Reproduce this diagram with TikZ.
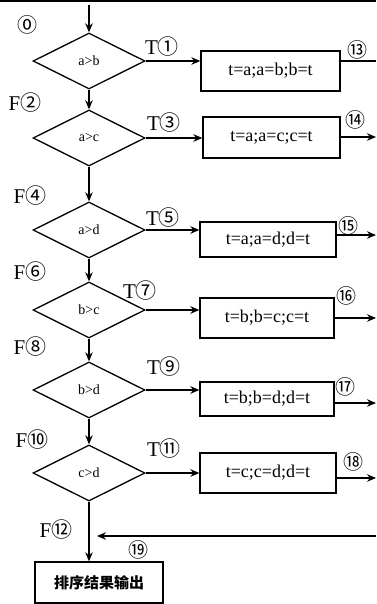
\documentclass[tikz,border=0pt]{standalone}
\usepackage{fontspec}
\setmainfont{Liberation Serif}
\newfontfamily\cjk{Noto Sans CJK SC}
\newcommand\circnum[1]{{\cjk #1}}
\usetikzlibrary{shapes.geometric,arrows.meta}
\begin{document}
\begin{tikzpicture}[x=1pt,y=-1pt,line width=1.3pt,
  >={Stealth[length=9pt,width=7.5pt]},
  dec/.style={diamond,draw,minimum width=112pt,minimum height=56pt,inner sep=0pt,font=\fontsize{14}{14}\selectfont},
  proc/.style={rectangle,draw,inner sep=0pt,font=\fontsize{18}{18}\selectfont},
  lab/.style={inner sep=0pt,font=\fontsize{21}{21}\selectfont},
  num/.style={inner sep=0pt,font=\cjk\fontsize{20}{20}\selectfont}]
\useasboundingbox (0,0) rectangle (376,604);
% top rule
\coordinate (tl) at (0,1.5);
\coordinate (tr) at (376,1.5);
\draw[line width=2pt] (tl) -- (tr);
% decisions
\node[dec] (d1) at (89,61) {a>b};
\node[dec] (d2) at (89,138) {a>c};
\node[dec] (d3) at (89,230) {a>d};
\node[dec] (d4) at (89,310) {b>c};
\node[dec] (d5) at (89,390) {b>d};
\node[dec] (d6) at (89,473) {c>d};
% process boxes
\node[proc,minimum width=139pt,minimum height=40pt] (b1) at (270.5,71) {t=a;a=b;b=t};
\node[proc,minimum width=137pt,minimum height=41pt] (b2) at (271.5,137.5) {t=a;a=c;c=t};
\node[proc,minimum width=136pt,minimum height=35pt] (b3) at (268,239.5) {t=a;a=d;d=t};
\node[proc,minimum width=134pt,minimum height=40pt] (b4) at (267,318) {t=b;b=c;c=t};
\node[proc,minimum width=134pt,minimum height=34pt] (b5) at (267,399) {t=b;b=d;d=t};
\node[proc,minimum width=136pt,minimum height=40pt] (b6) at (268,473) {t=c;c=d;d=t};
\node[proc,minimum width=128pt,minimum height=41pt,font=\cjk\bfseries\fontsize{15}{15}\selectfont] (b7) at (99,582.5) {排序结果输出};
% vertical flow
\coordinate (in) at (89,5);
\draw[->] (in) -- (d1.north);
\draw[->] (d1.south) -- (d2.north);
\draw[->] (d2.south) -- (d3.north);
\draw[->] (d3.south) -- (d4.north);
\draw[->] (d4.south) -- (d5.north);
\draw[->] (d5.south) -- (d6.north);
\draw[->] (d6.south) -- (d6.south |- b7.north);
% true branches
\draw[->] (d1.east) -- (d1.east -| b1.west);
\draw[->] (d2.east) -- (d2.east -| b2.west);
\draw[->] (d3.east) -- (d3.east -| b3.west);
\draw[->] (d4.east) -- (d4.east -| b4.west);
\draw[->] (d5.east) -- (d5.east -| b5.west);
\draw[->] (d6.east) -- (d6.east -| b6.west);
% outgoing lines
\coordinate (r1) at (376,61);
\coordinate (r2) at (376,137);
\coordinate (r3) at (376,235);
\coordinate (r4) at (376,318);
\coordinate (r5) at (376,403);
\coordinate (r6) at (376,478);
\draw (r1 -| b1.east) -- (r1);
\draw[->] (r2 -| b2.east) -- (r2);
\draw[->] (r3 -| b3.east) -- (r3);
\draw[->] (r4 -| b4.east) -- (r4);
\draw[->] (r5 -| b5.east) -- (r5);
\draw[->] (r6 -| b6.east) -- (r6);
% return line
\coordinate (rs) at (376,536);
\coordinate (re) at (97,536);
\draw[->] (rs) -- (re);
% labels
\node[num] (n0) at (27,25) {⓪};
\node[lab] (t1) at (162,47) {T\circnum{①}};
\node[lab] (f2) at (25,103) {F\circnum{②}};
\node[lab] (t3) at (164,123) {T\circnum{③}};
\node[lab] (f4) at (30,196) {F\circnum{④}};
\node[lab] (t5) at (163,218) {T\circnum{⑤}};
\node[lab] (f6) at (30,272) {F\circnum{⑥}};
\node[lab] (t7) at (140,291) {T\circnum{⑦}};
\node[lab] (f8) at (30,347) {F\circnum{⑧}};
\node[lab] (t9) at (164,367) {T\circnum{⑨}};
\node[lab] (f10) at (32,440) {F\circnum{⑩}};
\node[lab] (t11) at (164,449) {T\circnum{⑪}};
\node[lab] (f12) at (56,530) {F\circnum{⑫}};
\node[num] (n13) at (357,50) {⑬};
\node[num] (n14) at (355,120) {⑭};
\node[num] (n15) at (348,226) {⑮};
\node[num] (n16) at (346,296) {⑯};
\node[num] (n17) at (345,387) {⑰};
\node[num] (n18) at (353,462) {⑱};
\node[num] (n19) at (138,550) {⑲};
\end{tikzpicture}
\end{document}
